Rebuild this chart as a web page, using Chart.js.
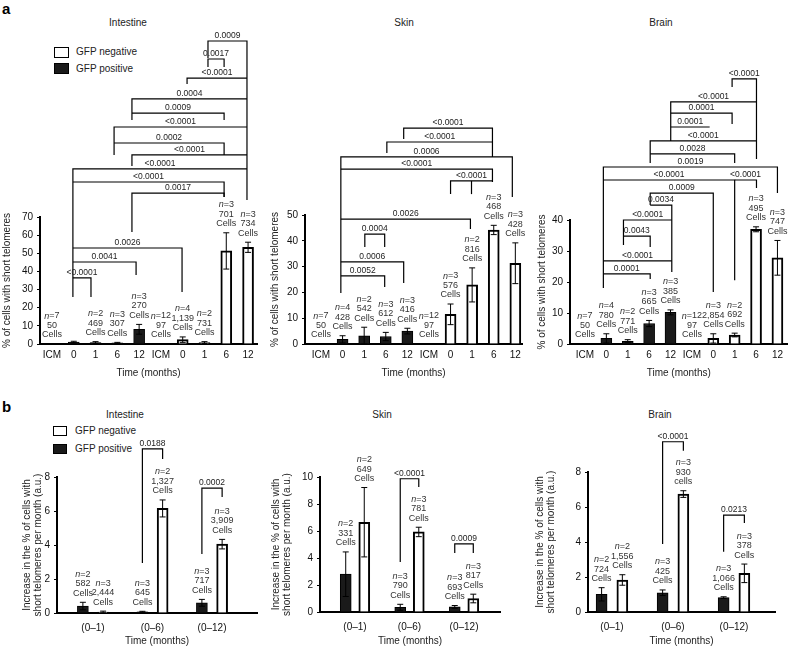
<!DOCTYPE html>
<html>
<head>
<meta charset="utf-8">
<script src="https://cdn.jsdelivr.net/npm/chart.js@4.4.1/dist/chart.umd.min.js"></script>
<style>
  body { margin: 0; background: #fff; }
  #fig { position: relative; width: 788px; height: 648px; overflow: hidden;
         font-family: 'Liberation Sans', Arial, Helvetica, sans-serif; color: #222; }
  #fig canvas { position: absolute; }
  .txt { position: absolute; font-size: 10px; line-height: 1; white-space: nowrap; }
  .mid { transform: translate(-50%, -50%); }
  .lft { transform: translateY(-50%); }
  .panel { font-weight: bold; font-size: 15px; color: #000; }
  .box { position: absolute; border: 1px solid #000; box-sizing: border-box; }
</style>
</head>
<body>
<div id="fig">
  <div class="txt panel" style="left:2px;top:1px">a</div>
  <div class="txt panel" style="left:2px;top:399px">b</div>

  <div class="txt mid" style="left:128px;top:23px">Intestine</div>
  <div class="txt mid" style="left:404px;top:23px">Skin</div>
  <div class="txt mid" style="left:661px;top:23px">Brain</div>
  <div class="txt mid" style="left:125px;top:415px">Intestine</div>
  <div class="txt mid" style="left:382px;top:415px">Skin</div>
  <div class="txt mid" style="left:660px;top:415px">Brain</div>

  <div class="box" style="left:54px;top:47px;width:15px;height:11px;background:#fff"></div>
  <div class="txt lft" style="left:76px;top:52px">GFP negative</div>
  <div class="box" style="left:54px;top:63px;width:15px;height:11px;background:#1a1a1a"></div>
  <div class="txt lft" style="left:76px;top:69px">GFP positive</div>

  <div class="box" style="left:53px;top:426px;width:14px;height:10px;background:#fff"></div>
  <div class="txt lft" style="left:75px;top:431px">GFP negative</div>
  <div class="box" style="left:53px;top:444px;width:14px;height:10px;background:#1a1a1a"></div>
  <div class="txt lft" style="left:75px;top:449px">GFP positive</div>
</div>

<script>
// ---- a: % of cells with short telomeres ----
const timeLabels = ['ICM', '0', '1', '6', '12', 'ICM', '0', '1', '6', '12'];

const intestinePos = [0, 1.0, 0.8, 0.6, 8.1];
const intestinePosErr = [0, 0.5, 0.5, 0.3, 2.7];
const intestineNeg = [0, 2.4, 0.8, 51.3, 53.3];
const intestineNegErr = [0, 1.5, 0.5, 10, 2.8];
const intestinePosN = [7, null, 2, 3, 3];
const intestinePosCells = ['50', null, '469', '307', '270'];
const intestineNegN = [12, 4, 2, 3, 3];
const intestineNegCells = ['97', '1,139', '731', '701', '734'];

const skinPos = [0, 1.8, 3.2, 2.9, 5.0];
const skinPosErr = [0, 1.4, 3.3, 1.6, 1.1];
const skinNeg = [0, 11.5, 22.9, 44.2, 31.3];
const skinNegErr = [0, 4, 6.6, 1.8, 7.9];
const skinPosN = [7, 4, 2, 3, 3];
const skinPosCells = ['50', '428', '542', '612', '416'];
const skinNegN = [12, 3, 2, 3, 3];
const skinNegCells = ['97', '576', '816', '468', '428'];

const brainPos = [0, 1.8, 0.9, 6.6, 10.2];
const brainPosErr = [0, 1.5, 0.5, 1, 0.8];
const brainNeg = [0, 1.8, 2.9, 37, 27.8];
const brainNegErr = [0, 1.5, 0.6, 0.8, 5.6];
const brainPosN = [7, 4, 2, 3, 3];
const brainPosCells = ['50', '780', '771', '665', '385'];
const brainNegN = [12, 3, 2, 3, 3];
const brainNegCells = ['97', '2,854', '692', '495', '747'];

// significance brackets: [from bar, to bar, level, left leg end, right leg end, P]
const intestineP = [
  [7.16, 8.95, 167, 157.7, 79.4, '0.0009'],
  [7.16, 7.9, 157.1, 152.7, 152.7, '0.0017'],
  [6.2, 8.95, 146.6, 143.3, 146.6, '<0.0001'],
  [3.67, 8.95, 135.1, 123.5, 135.1, '0.0004'],
  [3.67, 7.9, 127.3, 127.3, 123.5, '0.0009'],
  [2.85, 8.95, 119.6, 104.2, 119.6, '<0.0001'],
  [2.85, 7.9, 110.8, 110.8, 104.2, '0.0002'],
  [3.67, 8.95, 104.2, 98.1, 104.2, '<0.0001'],
  [0.96, 8.95, 96.5, 25.9, 96.5, '<0.0001'],
  [0.96, 7.9, 89.3, 89.3, 81, '<0.0001'],
  [3.67, 7.9, 83.2, 61.7, 81, '0.0017'],
  [0.96, 5.97, 52.9, 52.9, 28.7, '0.0026'],
  [0.96, 3.86, 45.2, 45.2, 38, '0.0041'],
  [0.96, 1.79, 36.4, 36.4, 25.9, '<0.0001']
];
const skinP = [
  [3.83, 7.94, 83.7, 79.5, 72.5, '<0.0001'],
  [3.05, 7.94, 78.3, 74, 78.3, '<0.0001'],
  [0.92, 8.86, 72.5, 19.8, 57, '0.0006'],
  [0.92, 7.94, 67.8, 67.8, 62.8, '<0.0001'],
  [6.0, 7.94, 63.2, 58.1, 63.2, '<0.0001'],
  [6.97, 6.97, 63.2, 58.1, 63.2, ''],
  [0.92, 6.92, 48.4, 48.4, 44.6, '0.0026'],
  [2.03, 2.95, 42.6, 37.6, 37.6, '0.0004'],
  [0.92, 3.83, 31.8, 31.8, 23.6, '0.0006'],
  [0.92, 2.95, 26.4, 26.4, 22.1, '0.0052']
];
const brainP = [
  [6.88, 8.02, 85.5, 82.9, 59.7, '<0.0001'],
  [4.01, 8.02, 78.1, 65.5, 78.1, '<0.0001'],
  [4.01, 6.88, 74.5, 74.5, 71, '0.0001'],
  [4.01, 5.83, 70, 70, 70, '0.0001'],
  [3.05, 8.02, 65.5, 58.4, 65.5, '<0.0001'],
  [3.05, 7.0, 61.3, 61.3, 58.4, '0.0028'],
  [0.86, 9.0, 57.1, 18.1, 48.7, '0.0019'],
  [0.86, 7.0, 52.9, 52.9, 20.6, '<0.0001'],
  [7.0, 8.02, 52.9, 52.9, 50.3, '<0.0001'],
  [3.05, 6.0, 48.7, 44.8, 16.8, '0.0009'],
  [3.05, 4.06, 44.8, 44.8, 23.2, '0.0034'],
  [1.8, 4.06, 40, 31.9, 40, '<0.0001'],
  [1.8, 3.05, 34.8, 34.8, 31.3, '0.0043'],
  [0.86, 4.06, 26.8, 26.8, 26.8, '<0.0001'],
  [0.86, 3.05, 22.6, 22.6, 21, '0.0001']
];

// ---- b: increase per month ----
const periodLabels = ['(0\u20131)', '(0\u20136)', '(0\u201312)'];

const intestineRatePos = [0.41, 0.07, 0.6];
const intestineRatePosErr = [0.22, 0.03, 0.2];
const intestineRateNeg = [0.06, 6.15, 4.05];
const intestineRateNegErr = [0.05, 0.5, 0.28];
const intestineRatePosN = [2, 3, 3];
const intestineRatePosCells = ['582', '645', '717'];
const intestineRateNegN = [3, 2, 3];
const intestineRateNegCells = ['2,444', '1,327', '3,909'];

const skinRatePos = [2.8, 0.35, 0.38];
const skinRatePosErr = [1.65, 0.22, 0.1];
const skinRateNeg = [6.65, 5.93, 1.0];
const skinRateNegErr = [2.57, 0.35, 0.32];
const skinRatePosN = [2, 3, 3];
const skinRatePosCells = ['331', '790', '693'];
const skinRateNegN = [2, 3, 3];
const skinRateNegCells = ['649', '781', '817'];

const brainRatePos = [1.01, 1.1, 0.82];
const brainRatePosErr = [0.38, 0.16, 0.05];
const brainRateNeg = [1.83, 6.74, 2.21];
const brainRateNegErr = [0.3, 0.19, 0.53];
const brainRatePosN = [2, 3, 3];
const brainRatePosCells = ['724', '425', '1,066'];
const brainRateNegN = [2, 3, 3];
const brainRateNegCells = ['1,556', '930', '378'];
const brainRateNegWord = ['Cells', 'cells', 'Cells'];

// [period, level, left leg end, right leg end, P]
const intestineRateP = [[1, 9.65, 2.94, 9.06, '0.0188'], [2, 7.35, 3.47, 6.82, '0.0002']];
const skinRateP = [[1, 9.87, 3.7, 9.26, '<0.0001'], [2, 5.04, 4.37, 4.37, '0.0009']];
const brainRateP = [[1, 9.73, 3.89, 9.22, '<0.0001'], [2, 5.54, 3.45, 5.09, '0.0213']];

const FONT = "'Liberation Sans', Arial, Helvetica, sans-serif";
const pairOffset = 0.17;
Chart.defaults.font.family = FONT;
Chart.defaults.font.size = 10;
Chart.defaults.color = '#222';

function drawNote(ctx, x, yb, n, count, word) {
  const lh = 9.5;
  ctx.fillStyle = '#333';
  ctx.textBaseline = 'middle';
  ctx.textAlign = 'center';
  ctx.font = '9px ' + FONT;
  ctx.fillText(word, x, yb);
  ctx.fillText(count, x, yb - lh);
  const rest = '=' + n;
  ctx.font = 'italic 9px ' + FONT;
  const w1 = ctx.measureText('n').width;
  ctx.font = '9px ' + FONT;
  const w2 = ctx.measureText(rest).width;
  const x0 = x - (w1 + w2) / 2;
  ctx.textAlign = 'left';
  ctx.font = 'italic 9px ' + FONT;
  ctx.fillText('n', x0, yb - 2 * lh);
  ctx.font = '9px ' + FONT;
  ctx.fillText(rest, x0 + w1, yb - 2 * lh);
}

function overlay(series, brackets) {
  return {
    id: 'overlay',
    afterDatasetsDraw(chart) {
      const ctx = chart.ctx, xs = chart.scales.x, ys = chart.scales.y;
      ctx.save();
      ctx.strokeStyle = '#000';
      ctx.lineWidth = 1;
      series.forEach((s, di) => {
        const meta = chart.getDatasetMeta(di);
        s.vals.forEach((v, i) => {
          const x = meta.data[i].x;
          let top = ys.getPixelForValue(v);
          const e = s.err[i];
          if (e) {
            const y1 = ys.getPixelForValue(v + e), y2 = ys.getPixelForValue(Math.max(v - e, 0));
            ctx.beginPath();
            ctx.moveTo(x, y1); ctx.lineTo(x, y2);
            ctx.moveTo(x - 3, y1); ctx.lineTo(x + 3, y1);
            ctx.moveTo(x - 3, y2); ctx.lineTo(x + 3, y2);
            ctx.stroke();
            top = y1;
          }
          if (s.n[i] != null) drawNote(ctx, x, top - 9, s.n[i], s.cells[i], s.word ? s.word[i] : 'Cells');
        });
      });
      ctx.lineWidth = 1.2;
      brackets.forEach(b => {
        const X1 = xs.getPixelForValue(b[0]), X2 = xs.getPixelForValue(b[1]);
        const L = ys.getPixelForValue(b[2]), B1 = ys.getPixelForValue(b[3]), B2 = ys.getPixelForValue(b[4]);
        ctx.beginPath();
        ctx.moveTo(X1, B1); ctx.lineTo(X1, L); ctx.lineTo(X2, L); ctx.lineTo(X2, B2);
        ctx.stroke();
        if (b[5]) {
          ctx.fillStyle = '#222';
          ctx.font = '8.5px ' + FONT;
          ctx.textAlign = 'center';
          ctx.textBaseline = 'alphabetic';
          ctx.fillText(b[5], (X1 + X2) / 2, L - 3);
        }
      });
      ctx.restore();
    }
  };
}

function makeChart(frame, p) {
  const [cx, cy, cw, ch] = frame.canvas;
  const [L, T, R, B] = frame.area;
  const canvas = document.createElement('canvas');
  canvas.width = cw; canvas.height = ch;
  canvas.style.left = cx + 'px'; canvas.style.top = cy + 'px';
  document.getElementById('fig').appendChild(canvas);

  const posX = p.labels.map((_, i) => p.paired ? i - pairOffset : i);
  const negX = p.labels.map((_, i) => p.paired ? i + pairOffset : i + p.pos.length);
  const series = [
    { vals: p.pos, err: p.posErr, n: p.posN, cells: p.posCells },
    { vals: p.neg, err: p.negErr, n: p.negN, cells: p.negCells, word: p.negWord }
  ];
  const brackets = p.paired
    ? p.brackets.map(b => [b[0] - pairOffset, b[0] + pairOffset, b[1], b[2], b[3], b[4]])
    : p.brackets;
  const tickLabels = p.paired ? p.labels : timeLabels;
  const lh = Array.isArray(p.yTitle) ? 11 : 12;

  new Chart(canvas, {
    type: 'bar',
    data: {
      datasets: [
        { label: 'GFP positive', data: p.pos.map((v, i) => ({ x: posX[i], y: v })),
          backgroundColor: '#1a1a1a', borderColor: '#000', borderWidth: 1 },
        { label: 'GFP negative', data: p.neg.map((v, i) => ({ x: negX[i], y: v })),
          backgroundColor: '#fff', borderColor: '#000', borderWidth: 2 }
      ]
    },
    options: {
      responsive: false,
      animation: false,
      events: [],
      grouped: false,
      barThickness: 11,
      layout: { padding: { left: 0, top: T - cy, right: cx + cw - R, bottom: 0 } },
      plugins: { legend: { display: false }, tooltip: { enabled: false } },
      scales: {
        x: {
          type: 'linear', min: frame.x[0], max: frame.x[1], offset: false,
          grid: { display: false, drawTicks: false },
          border: { display: true, color: '#000', width: 2 },
          ticks: { padding: p.paired ? 9 : 5, color: '#111', autoSkip: false, maxRotation: 0,
                   callback: v => tickLabels[v] },
          afterBuildTicks: s => { s.ticks = tickLabels.map((_, i) => ({ value: i })); },
          afterFit: s => { s.height = cy + ch - B; },
          title: { display: true, text: 'Time (months)', color: '#222',
                   font: { size: 10, lineHeight: 1.2 },
                   padding: { top: 0, bottom: cy + ch - frame.xTitleY - 6 } }
        },
        y: {
          min: 0, max: p.yMax,
          ticks: { stepSize: p.yStep, padding: 4, color: '#111' },
          grid: { drawOnChartArea: false, drawTicks: true, tickLength: 3, color: '#000' },
          border: { display: true, color: '#000', width: 2 },
          afterFit: s => { s.width = L - cx; },
          title: { display: true, text: p.yTitle, color: '#222',
                   font: { size: 10, lineHeight: lh / 10 },
                   padding: { top: frame.yTitleX - cx - lh / 2, bottom: 0 } }
        }
      }
    },
    plugins: [overlay(series, brackets)]
  });
}

const titleA = '% of cells with short telomeres';
const titleB = ['Increase in the % of cells with', 'short telomeres per month (a.u.)'];

makeChart({ canvas: [0, 0, 262, 400], area: [40, 217, 257, 344], x: [-0.55, 9.41], yTitleX: 7, xTitleY: 373 },
  { labels: intestinePos, pos: intestinePos, posErr: intestinePosErr, neg: intestineNeg, negErr: intestineNegErr,
    posN: intestinePosN, posCells: intestinePosCells, negN: intestineNegN, negCells: intestineNegCells,
    brackets: intestineP, yMax: 70, yStep: 10, yTitle: titleA });
makeChart({ canvas: [262, 0, 264, 400], area: [305, 215, 523, 344], x: [-0.74, 9.32], yTitleX: 275, xTitleY: 373 },
  { labels: skinPos, pos: skinPos, posErr: skinPosErr, neg: skinNeg, negErr: skinNegErr,
    posN: skinPosN, posCells: skinPosCells, negN: skinNegN, negCells: skinNegCells,
    brackets: skinP, yMax: 50, yStep: 10, yTitle: titleA });
makeChart({ canvas: [526, 0, 262, 400], area: [570, 220, 788, 344], x: [-0.70, 9.47], yTitleX: 542, xTitleY: 373 },
  { labels: brainPos, pos: brainPos, posErr: brainPosErr, neg: brainNeg, negErr: brainNegErr,
    posN: brainPosN, posCells: brainPosCells, negN: brainNegN, negCells: brainNegCells,
    brackets: brainP, yMax: 40, yStep: 10, yTitle: titleA });

makeChart({ canvas: [0, 400, 262, 248], area: [57, 477, 257, 613], x: [-0.605, 2.756], yTitleX: 27, xTitleY: 641 },
  { paired: true, labels: periodLabels, pos: intestineRatePos, posErr: intestineRatePosErr,
    neg: intestineRateNeg, negErr: intestineRateNegErr, posN: intestineRatePosN, posCells: intestineRatePosCells,
    negN: intestineRateNegN, negCells: intestineRateNegCells, brackets: intestineRateP,
    yMax: 8, yStep: 2, yTitle: titleB });
makeChart({ canvas: [262, 400, 264, 248], area: [320, 477, 500, 612], x: [-0.642, 2.66], yTitleX: 276, xTitleY: 641 },
  { paired: true, labels: periodLabels, pos: skinRatePos, posErr: skinRatePosErr,
    neg: skinRateNeg, negErr: skinRateNegErr, posN: skinRatePosN, posCells: skinRatePosCells,
    negN: skinRateNegN, negCells: skinRateNegCells, brackets: skinRateP,
    yMax: 10, yStep: 2, yTitle: titleB });
makeChart({ canvas: [526, 400, 262, 248], area: [588, 472, 775, 612], x: [-0.393, 2.672], yTitleX: 540, xTitleY: 641 },
  { paired: true, labels: periodLabels, pos: brainRatePos, posErr: brainRatePosErr,
    neg: brainRateNeg, negErr: brainRateNegErr, posN: brainRatePosN, posCells: brainRatePosCells,
    negN: brainRateNegN, negCells: brainRateNegCells, negWord: brainRateNegWord, brackets: brainRateP,
    yMax: 8, yStep: 2, yTitle: titleB });
</script>
</body>
</html>
